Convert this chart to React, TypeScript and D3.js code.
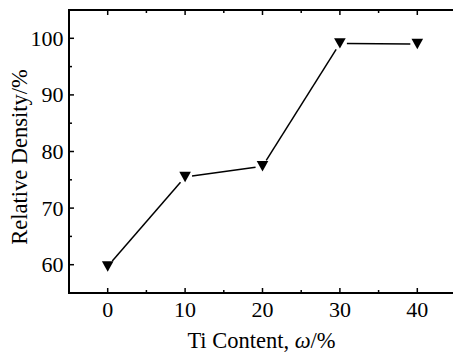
import React, { useEffect, useRef } from "react"
import * as d3 from "d3"

const tiContent = [0, 10, 20, 30, 40]
const relDensity = [59.7, 75.5, 77.4, 99.1, 99.0]
const xTicks = [0, 10, 20, 30, 40]
const xMinor = [5, 15, 25, 35]
const yTicks = [60, 70, 80, 90, 100]
const yMinor = [65, 75, 85, 95]

const W = 453
const H = 354
const FRAME = { left: 69, top: 10, right: 456, bottom: 293 }
const FONT = "Liberation Serif"

// down-pointing triangle, centred on its bounding box
const triangleDown = {
  draw(ctx: d3.Path, size: number) {
    const w = Math.sqrt(size) * 0.75
    const h = w * 0.9
    ctx.moveTo(-w, -h)
    ctx.lineTo(w, -h)
    ctx.lineTo(0, h)
    ctx.closePath()
  },
}

export default function App() {
  const svgRef = useRef<SVGSVGElement>(null)

  useEffect(() => {
    const svg = d3.select(svgRef.current)
    svg.selectAll("*").remove()

    const x = d3.scaleLinear().domain([-5, 45]).range([FRAME.left, FRAME.right])
    const y = d3.scaleLinear().domain([55, 105]).range([FRAME.bottom, FRAME.top])

    const pts = tiContent.map((t, i) => ({ px: x(t), py: y(relDensity[i]) }))

    // connecting segments with a small gap at each marker
    const gap = 7
    const segs = d3.pairs(pts).map(([a, b]) => {
      const dx = b.px - a.px
      const dy = b.py - a.py
      const len = Math.hypot(dx, dy)
      const ux = dx / len
      const uy = dy / len
      return [
        [a.px + ux * gap, a.py + uy * gap],
        [b.px - ux * gap, b.py - uy * gap],
      ] as [number, number][]
    })
    svg
      .append("g")
      .selectAll("path")
      .data(segs)
      .join("path")
      .attr("d", (d) => d3.line()(d))
      .attr("fill", "none")
      .attr("stroke", "#000")
      .attr("stroke-width", 1.5)

    svg
      .append("g")
      .selectAll("path")
      .data(pts)
      .join("path")
      .attr("transform", (d) => `translate(${d.px},${d.py})`)
      .attr("d", d3.symbol(triangleDown as any, 60)() as string)
      .attr("fill", "#000")

    // frame
    const frame = svg.append("g").attr("stroke", "#000").attr("stroke-width", 2).attr("fill", "none")
    frame.append("line").attr("x1", FRAME.left).attr("x2", FRAME.left).attr("y1", FRAME.top).attr("y2", FRAME.bottom + 1)
    frame.append("line").attr("x1", FRAME.left - 1).attr("x2", FRAME.right).attr("y1", FRAME.bottom).attr("y2", FRAME.bottom)
    frame.append("line").attr("x1", FRAME.left - 1).attr("x2", FRAME.right).attr("y1", FRAME.top).attr("y2", FRAME.top)

    const ticks = svg.append("g").attr("stroke", "#000").attr("stroke-width", 1.5)
    const xt = [...xTicks.map((v) => ({ v, l: 5 })), ...xMinor.map((v) => ({ v, l: 3 }))]
    xt.forEach(({ v, l }) => {
      ticks.append("line").attr("x1", x(v)).attr("x2", x(v)).attr("y1", FRAME.bottom).attr("y2", FRAME.bottom - l)
      ticks.append("line").attr("x1", x(v)).attr("x2", x(v)).attr("y1", FRAME.top).attr("y2", FRAME.top + l)
    })
    const yt = [...yTicks.map((v) => ({ v, l: 5 })), ...yMinor.map((v) => ({ v, l: 3 }))]
    yt.forEach(({ v, l }) => {
      ticks.append("line").attr("x1", FRAME.left).attr("x2", FRAME.left + l).attr("y1", y(v)).attr("y2", y(v))
    })

    const labels = svg.append("g").style("font-family", FONT).style("font-size", "22px").attr("fill", "#000")
    labels
      .selectAll("text.xl")
      .data(xTicks)
      .join("text")
      .attr("x", (d) => x(d))
      .attr("y", 317)
      .attr("text-anchor", "middle")
      .text((d) => d)
    labels
      .selectAll("text.yl")
      .data(yTicks)
      .join("text")
      .attr("x", 63.5)
      .attr("y", (d) => y(d) + 7.5)
      .attr("text-anchor", "end")
      .text((d) => d)

    const xTitle = labels
      .append("text")
      .attr("x", 261.5)
      .attr("y", 348)
      .attr("text-anchor", "middle")
      .style("font-size", "22.5px")
    xTitle.append("tspan").text("Ti Content, ")
    xTitle.append("tspan").style("font-style", "italic").text("ω")
    xTitle.append("tspan").text("/%")

    labels
      .append("text")
      .attr("transform", `translate(26.5,157) rotate(-90)`)
      .attr("text-anchor", "middle")
      .style("font-size", "22.5px")
      .text("Relative Density/%")
  }, [])

  return (
    <svg
      ref={svgRef}
      width={W}
      height={H}
      style={{ position: "absolute", left: 0, top: 0, background: "#fff" }}
    />
  )
}
